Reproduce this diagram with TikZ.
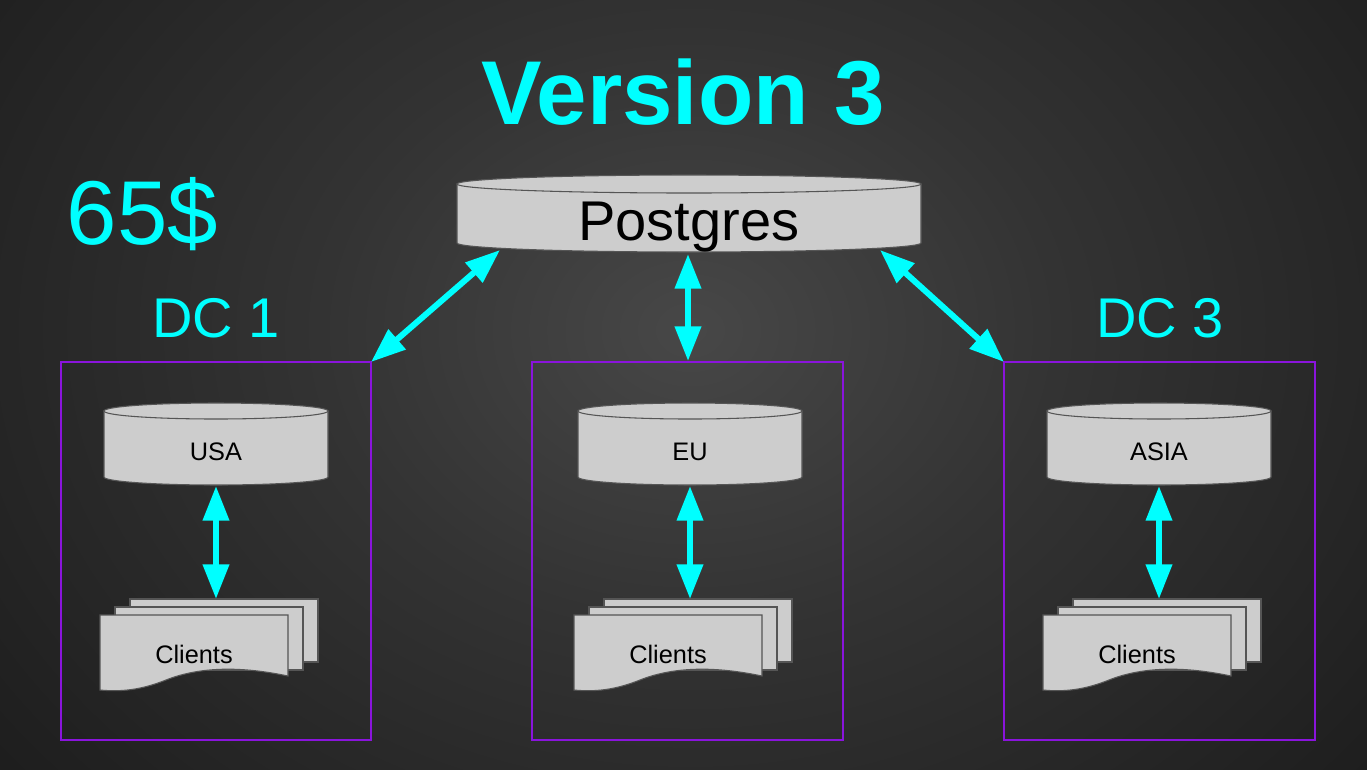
\documentclass[tikz,border=0pt]{standalone}
\usepackage{fontspec}
\setmainfont{Liberation Sans}
\usetikzlibrary{arrows.meta}
\definecolor{cy}{HTML}{00FFFF}
\definecolor{pu}{HTML}{8A14DC}
\definecolor{gr}{HTML}{CDCDCD}
\definecolor{ed}{HTML}{555555}
\begin{document}
\begin{tikzpicture}[x=0.75pt,y=-0.75pt,
  arr/.style={cy,line width=4.5pt,{Triangle[length=26pt,width=19pt]}-{Triangle[length=26pt,width=19pt]}},
  box/.style={pu,line width=1.8pt},
  shp/.style={fill=gr,draw=ed,line width=0.8pt},
  lab/.style={font=\fontsize{19}{22}\selectfont,text=black}]
\useasboundingbox (0,0) rectangle (1367,769);
\pgfdeclareradialshading{bg}{\pgfpoint{0bp}{0bp}}{color(0bp)=(black!72);color(12bp)=(black!80);color(28bp)=(black!88);color(42bp)=(black!93);color(50bp)=(black!95)}
\path[shading=bg] (-80,-280) rectangle (1460,940);
% title
\node[text=cy,font=\bfseries\fontsize{68}{76}\selectfont] (title) at (683,92) {Version 3};
\node[text=cy,font=\fontsize{68}{80}\selectfont,anchor=west] (price) at (62,214) {65\$};
\node[text=cy,font=\fontsize{42}{50}\selectfont] (dc1) at (216,318) {DC 1};
\node[text=cy,font=\fontsize{42}{50}\selectfont] (dc3) at (1160,318) {DC 3};
% postgres cylinder
\path[shp] (457,184) -- (457,243) arc[start angle=180,end angle=0,x radius=232,y radius=9] -- (921,184) -- cycle;
\path[shp] (689,184) ellipse[x radius=232,y radius=9];
\node[font=\fontsize{42}{50}\selectfont,text=black] (pg) at (689,227) {Postgres};
% boxes
\draw[box] (61,362) rectangle (371,740);
\draw[box] (532,362) rectangle (843,740);
\draw[box] (1004,362) rectangle (1315,740);
\foreach \cx/\nm/\id in {216/USA/a,690/EU/b,1159/ASIA/c}{
  \path[shp] (\cx-112,411) -- (\cx-112,477) arc[start angle=180,end angle=0,x radius=112,y radius=8] -- (\cx+112,411) -- cycle;
  \path[shp] (\cx,411) ellipse[x radius=112,y radius=8];
  \node[lab] (db\id) at (\cx,452) {\nm};
  \path[shp] (\cx-86,599) rectangle (\cx+102,662);
  \path[shp] (\cx-101,607) rectangle (\cx+87,670);
  \path[shp] (\cx-116,615) -- (\cx+72,615) -- (\cx+72,676) .. controls (\cx+20,665) and (\cx-20,668) .. (\cx-50,680) .. controls (\cx-75,690) and (\cx-95,692) .. (\cx-116,690) -- cycle;
  \node[lab] (cl\id) at (\cx-22,654) {Clients};
  \coordinate (t\id) at (\cx,486);
  \coordinate (b\id) at (\cx,599);
  \draw[arr] (t\id) -- (b\id);
}
\coordinate (p1) at (500,250); \coordinate (q1) at (371,362);
\coordinate (p2) at (688,254); \coordinate (q2) at (688,361);
\coordinate (p3) at (880,250); \coordinate (q3) at (1004,362);
\draw[arr] (p1) -- (q1);
\draw[arr] (p2) -- (q2);
\draw[arr] (p3) -- (q3);
\end{tikzpicture}
\end{document}
